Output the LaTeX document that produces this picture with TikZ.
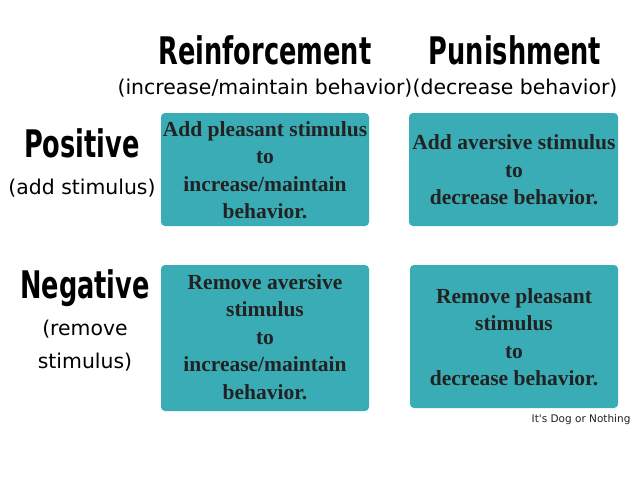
\documentclass[tikz,border=0pt]{standalone}
\usepackage{fontspec}
\setmainfont{Liberation Serif}
\newfontfamily\headfont{DejaVu Sans Condensed}
\newfontfamily\subfont{DejaVu Sans}
\definecolor{teal1}{HTML}{3AACB5}
\definecolor{ink}{HTML}{222222}
\tikzset{
  cell/.style={fill=teal1, rounded corners=4pt, draw=none},
  celltext/.style={align=center, text=ink, font=\fontsize{21.5}{27.5}\selectfont\bfseries},
  head/.style={font=\headfont\fontsize{38}{40}\selectfont\bfseries, text=black, xscale=0.75},
  sub/.style={font=\subfont\fontsize{20.4}{33}\selectfont, text=black, align=center}
}
\begin{document}
\begin{tikzpicture}[x=1pt,y=-1pt]
\useasboundingbox[fill=white] (0,0) rectangle (640,480);
\fill[cell] (161,113) rectangle (369,226);
\fill[cell] (409,113) rectangle (618,226);
\fill[cell] (161,265) rectangle (369,411);
\fill[cell] (410,265) rectangle (618,408);
\node[head] (hr) at (265,50) {Reinforcement};
\node[head] (hp) at (515,50) {Punishment};
\node[sub] (sr) at (265,88) {(increase/maintain behavior)};
\node[sub] (sp) at (515,88) {(decrease behavior)};
\node[head] (pos) at (82,143) {Positive};
\node[sub] (spos) at (82,188) {(add stimulus)};
\node[head] (neg) at (85,288) {Negative};
\node[sub] (sneg) at (85,346) {(remove\\stimulus)};
\node[celltext] (t1) at (265,170) {Add pleasant stimulus\\to\\increase/maintain\\behavior.};
\node[celltext] (t2) at (514,170) {Add aversive stimulus\\to\\decrease behavior.};
\node[celltext] (t3) at (265,337) {Remove aversive\\stimulus\\to\\increase/maintain\\behavior.};
\node[celltext] (t4) at (514,337) {Remove pleasant\\stimulus\\to\\decrease behavior.};
\node[anchor=east, font=\subfont\fontsize{10.5}{12}\selectfont, text=ink] (ft) at (634,420) {It's Dog or Nothing};
\end{tikzpicture}
\end{document}
